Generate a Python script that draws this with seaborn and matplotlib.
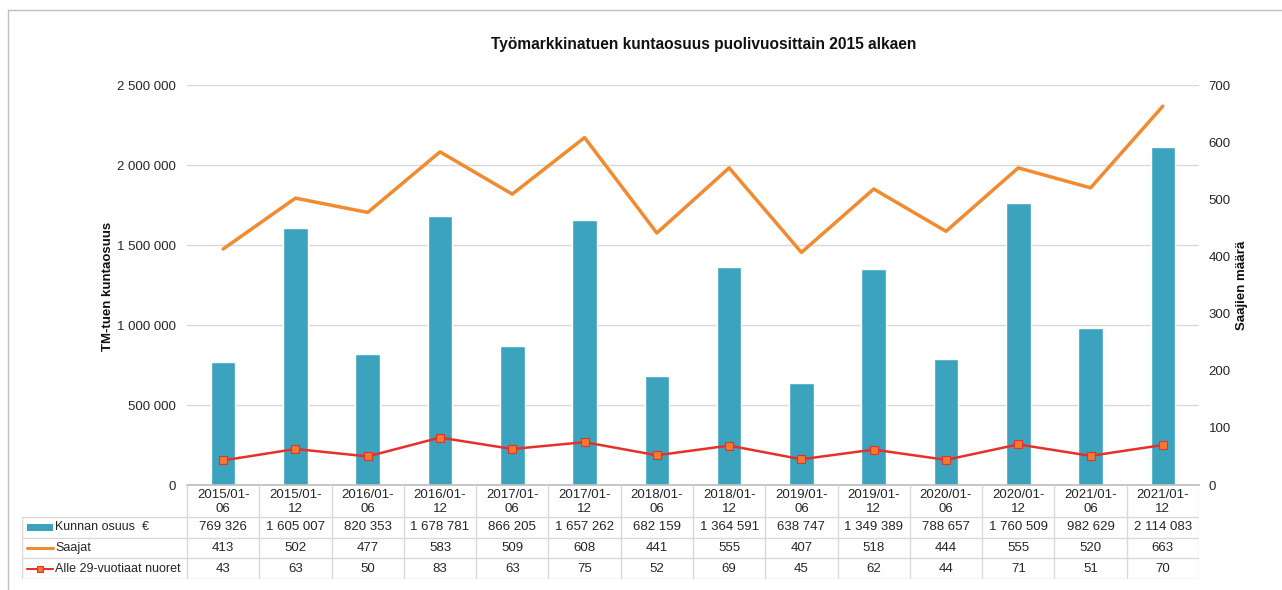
import matplotlib
matplotlib.use("Agg")
import matplotlib.pyplot as plt
import seaborn as sns
import pandas as pd
from matplotlib.ticker import FuncFormatter, MultipleLocator
from matplotlib.lines import Line2D
from matplotlib.patches import Rectangle

periods = ["2015/01-06", "2015/01-12", "2016/01-06", "2016/01-12", "2017/01-06",
           "2017/01-12", "2018/01-06", "2018/01-12", "2019/01-06", "2019/01-12",
           "2020/01-06", "2020/01-12", "2021/01-06", "2021/01-12"]
kunnan_osuus = [769326, 1605007, 820353, 1678781, 866205, 1657262, 682159,
                1364591, 638747, 1349389, 788657, 1760509, 982629, 2114083]
saajat = [413, 502, 477, 583, 509, 608, 441, 555, 407, 518, 444, 555, 520, 663]
nuoret = [43, 63, 50, 83, 63, 75, 52, 69, 45, 62, 44, 71, 51, 70]
series_names = ["Kunnan osuus  €", "Saajat", "Alle 29-vuotiaat nuoret"]

title = "Työmarkkinatuen kuntaosuus puolivuosittain 2015 alkaen"
ylabel_left = "TM-tuen kuntaosuus"
ylabel_right = "Saajien määrä"

bar_color = "#3BA3BE"
orange = "#F28A30"
red = "#E8302A"
marker_face = "#F07A30"
grid_color = "#D9D9D9"
text_color = "#262626"

sns.set_theme(style="white")
plt.rcParams['font.family'] = ['Liberation Sans', 'DejaVu Sans']

W, H = 1282, 590
fig = plt.figure(figsize=(W / 100, H / 100), dpi=100)


def fx(px):
    return px / W


def fy(py):
    return 1 - py / H


L, R, T, B = 187, 1199, 85, 485
ax = fig.add_axes([fx(L), fy(B), (R - L) / W, (B - T) / H])

fmt = lambda v: f"{int(round(v)):,}".replace(",", " ")

df = pd.DataFrame({"Kausi": periods, "pos": list(range(len(periods))),
                   "Kunnan": kunnan_osuus, "Saajat": saajat, "Nuoret": nuoret})

sns.barplot(data=df, x="pos", y="Kunnan", native_scale=True, color=bar_color,
            saturation=1, width=0.34, ax=ax, zorder=2)
n = len(periods)
ax.set_xlim(-0.5, n - 0.5)
ax.set_ylim(0, 2500000)
ax.yaxis.set_major_locator(MultipleLocator(500000))
ax.yaxis.set_major_formatter(FuncFormatter(lambda v, p: fmt(v)))
ax.set_xticks([])
ax.set_xlabel("")
ax.set_ylabel("")
ax.yaxis.grid(True, color=grid_color, lw=1, zorder=0)
ax.set_axisbelow(True)
for s in ["top", "left", "right"]:
    ax.spines[s].set_visible(False)
ax.spines["bottom"].set_color("#BFBFBF")
ax.tick_params(axis="y", length=0, pad=8, labelsize=9.5, labelcolor=text_color)

ax2 = ax.twinx()
sns.lineplot(data=df, x="pos", y="Saajat", ax=ax2, color=orange, lw=2.5, zorder=3)
sns.lineplot(data=df, x="pos", y="Nuoret", ax=ax2, color=red, lw=1.8, marker="s",
             markersize=5.5, markerfacecolor=marker_face, markeredgecolor=red,
             markeredgewidth=0.8, zorder=4)
ax2.set_ylim(0, 700)
ax2.yaxis.set_major_locator(MultipleLocator(100))
ax2.set_ylabel("")
ax2.set_xlabel("")
ax2.grid(False)
for s in ax2.spines.values():
    s.set_visible(False)
ax2.tick_params(axis="y", length=0, pad=7, labelsize=9.5, labelcolor=text_color)
ax2.set_xlim(-0.5, n - 0.5)
ax2.set_xticks([])

fig.text(fx(704), fy(45), title, ha="center", va="center", fontsize=11.2,
         fontweight="bold", color="#111111")
fig.text(fx(108), fy(286), ylabel_left, rotation=90, ha="center", va="center",
         fontsize=9.5, fontweight="bold", color="#111111")
fig.text(fx(1242), fy(285), ylabel_right, rotation=90, ha="center", va="center",
         fontsize=9.5, fontweight="bold", color="#111111")

# data table
TL, TB = 22, 579
colw = (R - L) / n
left_data = -0.5 - (L - TL) / colw
tax = fig.add_axes([fx(TL), fy(TB), (R - TL) / W, (TB - B) / H])
tax.set_xlim(left_data, n - 0.5)
tax.set_ylim(TB - B, 0)
tax.axis("off")
row_edges = [0, 32, 53, 73, 94]
lc = "#D9D9D9"
tax.hlines(row_edges[1:], left_data, n - 0.5, color=lc, lw=1)
for i in range(n + 1):
    tax.vlines(i - 0.5, 0, row_edges[-1], color=lc, lw=1)
tax.vlines(left_data, row_edges[1], row_edges[-1], color=lc, lw=1)

for i, p in enumerate(periods):
    a, b = p.split("-")
    tax.text(i, 10, a + "-", ha="center", va="center", fontsize=9.5, color=text_color)
    tax.text(i, 24, b, ha="center", va="center", fontsize=9.5, color=text_color)
    tax.text(i, 42.5, fmt(kunnan_osuus[i]), ha="center", va="center", fontsize=9.5, color=text_color)
    tax.text(i, 63, str(saajat[i]), ha="center", va="center", fontsize=9.5, color=text_color)
    tax.text(i, 83.5, str(nuoret[i]), ha="center", va="center", fontsize=9.5, color=text_color)

# legend keys
px = 1 / colw
x0 = left_data + 5 * px
x1 = left_data + 31 * px
xt = left_data + 33 * px
tax.add_patch(Rectangle((x0, 39), x1 - x0, 7, color=bar_color, lw=0))
tax.plot([x0, x1], [63, 63], color=orange, lw=2.2)
tax.plot([x0, x1], [83.5, 83.5], color=red, lw=1.5)
tax.plot([(x0 + x1) / 2], [83.5], marker="s", markersize=5, color=marker_face,
         markeredgecolor=red, markeredgewidth=0.8)
ys = [42.5, 63, 83.5]
for name, y in zip(series_names, ys):
    tax.text(xt, y, name, ha="left", va="center", fontsize=9, color=text_color)

# outer frame
fig.add_artist(Line2D([fx(8), 1], [fy(10), fy(10)], color="#BFBFBF", lw=1))
fig.add_artist(Line2D([fx(8), fx(8)], [fy(10), 0], color="#BFBFBF", lw=1))

fig.savefig("out.png", dpi=100, facecolor="white")
